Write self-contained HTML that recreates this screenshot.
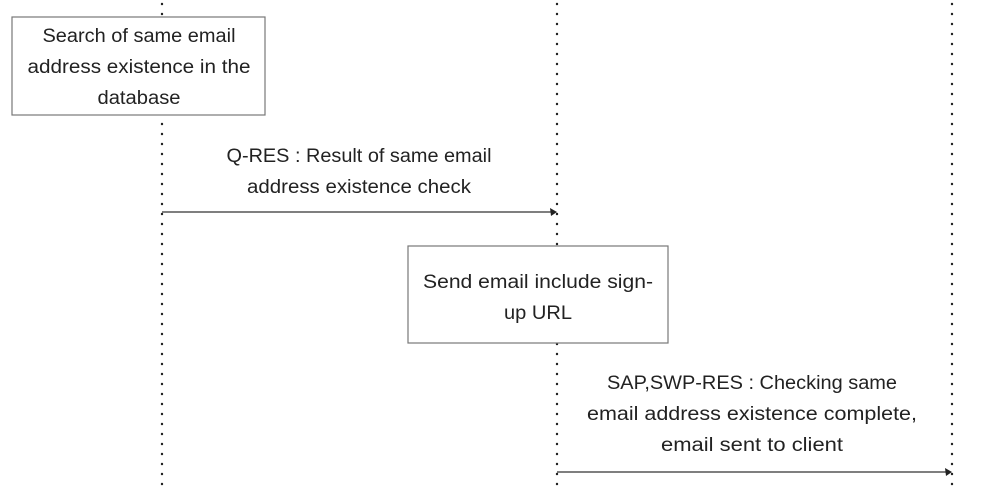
<!DOCTYPE html>
<html><head><meta charset="utf-8"><style>
html,body{margin:0;padding:0;background:#fff;}
svg{display:block;}
text{font-family:"Liberation Sans",sans-serif;font-size:19px;fill:#222;text-anchor:middle;}
</style></head><body>
<svg width="984" height="493" viewBox="0 0 984 493">
<g stroke="#222" stroke-width="2.4" stroke-linecap="round" stroke-dasharray="0.1 9.9">
<line x1="162" y1="4" x2="162" y2="492"/>
<line x1="557" y1="4" x2="557" y2="492"/>
<line x1="952" y1="4" x2="952" y2="492"/>
</g>
<rect x="12" y="17" width="253" height="98" fill="#fff" stroke="#777" stroke-width="1.2"/>
<rect x="408" y="246" width="260" height="97" fill="#fff" stroke="#777" stroke-width="1.2"/>
<text x="139" y="42" textLength="193" lengthAdjust="spacingAndGlyphs">Search of same email</text>
<text x="139" y="73" textLength="223" lengthAdjust="spacingAndGlyphs">address existence in the</text>
<text x="139" y="104" textLength="83" lengthAdjust="spacingAndGlyphs">database</text>
<text x="359" y="162" textLength="265" lengthAdjust="spacingAndGlyphs">Q-RES : Result of same email</text>
<text x="359" y="193" textLength="224" lengthAdjust="spacingAndGlyphs">address existence check</text>
<line x1="162" y1="212" x2="553" y2="212" stroke="#333" stroke-width="1.2"/>
<polygon points="557,212 550,208 551,216" fill="#222"/>
<text x="538" y="288" textLength="230" lengthAdjust="spacingAndGlyphs">Send email include sign-</text>
<text x="538" y="319" textLength="68" lengthAdjust="spacingAndGlyphs">up URL</text>
<text x="752" y="389" textLength="290" lengthAdjust="spacingAndGlyphs">SAP,SWP-RES : Checking same</text>
<text x="752" y="420" textLength="330" lengthAdjust="spacingAndGlyphs">email address existence complete,</text>
<text x="752" y="451" textLength="182" lengthAdjust="spacingAndGlyphs">email sent to client</text>
<line x1="557" y1="472" x2="948" y2="472" stroke="#333" stroke-width="1.2"/>
<polygon points="952,472 945,468 946,476" fill="#222"/>
</svg>
</body></html>
